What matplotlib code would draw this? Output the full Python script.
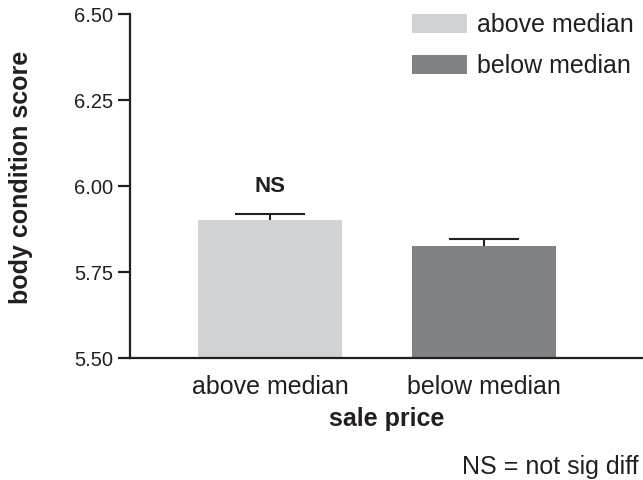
import matplotlib.pyplot as plt
from matplotlib.patches import Patch

plt.rcParams['font.family'] = ['Liberation Sans', 'DejaVu Sans']

# data
groups = ['above median', 'below median']
means = [5.90, 5.825]
sem = [0.018, 0.022]
colors = ['#d1d2d4', '#818285']
yticks = [5.50, 5.75, 6.00, 6.25, 6.50]

ink = '#231f20'

fig = plt.figure(figsize=(6.43, 4.80), dpi=100)
ax = fig.add_axes([130 / 643, 122 / 480, 513 / 643, 344 / 480])

x = list(range(len(groups)))
ax.bar(x, [m - 5.5 for m in means], bottom=5.5, width=0.673, color=colors)
eb = ax.errorbar(x, means, yerr=[[0] * len(sem), sem], fmt='none',
                 ecolor=ink, elinewidth=1.5, capsize=25, capthick=1.5)
# only the upper cap is wanted
for cap in eb[1]:
    if list(cap.get_ydata()) == means:
        cap.set_visible(False)

ax.text(0, 6.0, 'NS', ha='center', va='center', fontsize=16,
        fontweight='bold', color=ink)

ax.set_xlim(-0.654, 1.743)
ax.set_ylim(5.5, 6.5)
ax.set_yticks(yticks)
ax.set_yticklabels([f'{t:.2f}' for t in yticks])
ax.set_xticks(x)
ax.set_xticklabels(groups)

for side in ['top', 'right']:
    ax.spines[side].set_visible(False)
for side in ['left', 'bottom']:
    ax.spines[side].set_linewidth(1.6)
    ax.spines[side].set_color(ink)

ax.tick_params(axis='y', length=9, width=1.6, color=ink, labelsize=14.5,
               labelcolor=ink, pad=3)
ax.tick_params(axis='x', length=0, labelsize=18, labelcolor=ink, pad=12)

ax.set_xlabel('sale price', fontsize=18, fontweight='bold', color=ink,
              labelpad=6)
ax.set_ylabel('body condition score', fontsize=18, fontweight='bold',
              color=ink)
ax.yaxis.set_label_coords(-0.19, 0.526)

handles = [Patch(facecolor=c, edgecolor='none') for c in colors]
fig.legend(handles, groups, loc='upper left',
           bbox_to_anchor=(412 / 643, 1 - 13 / 480), frameon=False,
           fontsize=18, handlelength=2.2, handleheight=0.78,
           handletextpad=0.4, labelspacing=0.68, borderpad=0,
           borderaxespad=0, labelcolor=ink)

fig.text(462 / 643, 1 - 467 / 480, 'NS = not sig diff', fontsize=18,
         color=ink, va='center')

fig.savefig('out.png', dpi=100)
